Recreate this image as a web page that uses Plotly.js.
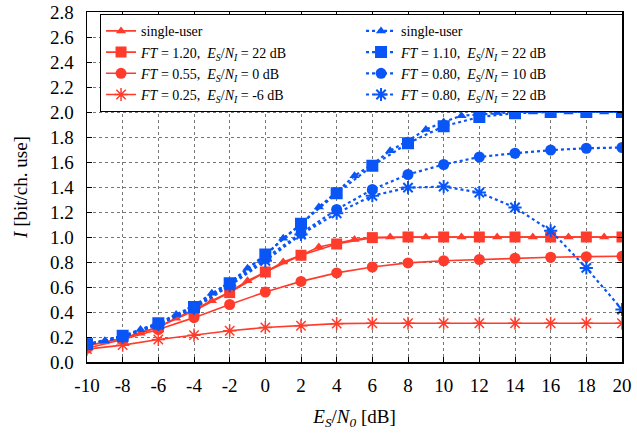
<!DOCTYPE html>
<html><head><meta charset="utf-8">
<script src="https://cdn.plot.ly/plotly-3.0.1.min.js"></script>
<style>html,body{margin:0;padding:0;background:#fff}#chart{width:637px;height:434px}</style>
</head><body><div id="chart"></div>
<script>
const x1 = [-10,-9,-8,-7,-6,-5,-4,-3,-2,-1,0,1,2,3,4,5,6,7,8,9,10,11,12,13,14,15,16,17,18,19,20];
const x2 = [-10,-8,-6,-4,-2,0,2,4,6,8,10,12,14,16,18,20];

const redSU   = [0.13,0.16,0.19,0.23,0.28,0.35,0.42,0.49,0.56,0.65,0.72,0.80,0.855,0.92,0.95,0.98,0.995,1.0,1.0,1.0,1.0,1.0,1.0,1.0,1.0,1.0,1.0,1.0,1.0,1.0,1.0];
const redSq   = [0.13,0.19,0.28,0.41,0.555,0.72,0.854,0.944,0.995,1.0,1.0,1.0,1.0,1.0,1.0,1.0];
const redCi   = [0.11,0.18,0.26,0.355,0.46,0.56,0.645,0.713,0.76,0.793,0.81,0.82,0.83,0.838,0.843,0.846];
const redSt   = [0.103,0.135,0.18,0.215,0.25,0.276,0.29,0.307,0.31,0.31,0.31,0.31,0.31,0.31,0.31,0.31];

const blueSU  = [0.14,0.17,0.2,0.26,0.31,0.38,0.45,0.55,0.63,0.75,0.85,0.99,1.1,1.24,1.36,1.49,1.58,1.69,1.77,1.86,1.92,1.97,1.98,1.995,2.0,2.0,2.0,2.0,2.0,2.0,2.0];
const blueSq  = [0.143,0.21,0.31,0.44,0.63,0.86,1.106,1.35,1.57,1.75,1.886,1.96,1.99,2.0,2.0,2.0];
const blueCi  = [0.14,0.2,0.3,0.43,0.62,0.83,1.03,1.22,1.38,1.50,1.58,1.64,1.67,1.695,1.71,1.716];
const blueSt  = [0.14,0.2,0.3,0.43,0.61,0.81,1.02,1.19,1.33,1.395,1.403,1.355,1.236,1.05,0.753,0.42];

const names = [
  'single-user',
  '<i>FT</i> = 1.20,  <i>E<sub>S</sub></i>/<i>N<sub>I</sub></i> = 22 dB',
  '<i>FT</i> = 0.55,  <i>E<sub>S</sub></i>/<i>N<sub>I</sub></i> = 0 dB',
  '<i>FT</i> = 0.25,  <i>E<sub>S</sub></i>/<i>N<sub>I</sub></i> = -6 dB',
  'single-user',
  '<i>FT</i> = 1.10,  <i>E<sub>S</sub></i>/<i>N<sub>I</sub></i> = 22 dB',
  '<i>FT</i> = 0.80,  <i>E<sub>S</sub></i>/<i>N<sub>I</sub></i> = 10 dB',
  '<i>FT</i> = 0.80,  <i>E<sub>S</sub></i>/<i>N<sub>I</sub></i> = 22 dB'
];

const RED = '#ff3b2b', BLUE = '#0a55f5';
function red(x, y, name, sym, size, rank){
  return {x, y, name, type:'scatter', mode:'lines+markers', legendrank: rank,
    line:{color:RED, width:1.6},
    marker:{symbol:sym, size:size, color:RED, line:{color:RED, width: sym==='asterisk-open'?1.5:0}}};
}
function blue(x, y, name, sym, size, rank){
  return {x, y, name, type:'scatter', mode:'lines+markers', legendrank: rank,
    line:{color:BLUE, width:2.2, dash:'dot'},
    marker:{symbol:sym, size:size, color:BLUE, line:{color:BLUE, width: sym==='asterisk-open'?2:0}}};
}
const data = [
  red(x1, redSU, names[0], 'triangle-up', 9, 1),
  red(x2, redSq, names[1], 'square', 11, 3),
  red(x2, redCi, names[2], 'circle', 11, 5),
  red(x2, redSt, names[3], 'asterisk-open', 11, 7),
  blue(x1, blueSU, names[4], 'triangle-up', 9, 2),
  blue(x2, blueSq, names[5], 'square', 12, 4),
  blue(x2, blueCi, names[6], 'circle', 11, 6),
  blue(x2, blueSt, names[7], 'asterisk-open', 11, 8)
];
const xticks = x2;
const yticks = [0,0.2,0.4,0.6,0.8,1.0,1.2,1.4,1.6,1.8,2.0,2.2,2.4,2.6,2.8];
const axisCommon = {
  showline:true, linecolor:'#000', linewidth:1.5, mirror:'ticks',
  ticks:'inside', ticklen:5, tickcolor:'#000', tickwidth:1,
  showgrid:true, gridcolor:'#777777', gridwidth:1, griddash:'dot',
  zeroline:false, tickfont:{family:'Liberation Serif', size:19, color:'#000'}
};
const layout = {
  width:637, height:434,
  margin:{l:87, r:15, t:12, b:72},
  paper_bgcolor:'#fff', plot_bgcolor:'#fff',
  font:{family:'Liberation Serif', color:'#000'},
  xaxis: Object.assign({}, axisCommon, {
    range:[-10,20], tickmode:'array', tickvals:xticks, ticktext:xticks.map(String),
    ticklabelstandoff:6,
    title:{text:'<i>E<sub>S</sub></i>/<i>N<sub>0</sub></i> [dB]', font:{family:'Liberation Serif', size:19}, standoff:14}
  }),
  yaxis: Object.assign({}, axisCommon, {
    range:[0,2.8], tickmode:'array', tickvals:yticks, ticktext:yticks.map(v=>v.toFixed(1)),
    ticklabelstandoff:8,
    title:{text:'<i>I</i> [bit/ch. use]', font:{family:'Liberation Serif', size:19}, standoff:17}
  }),
  showlegend:true,
  legend:{
    orientation:'h', x:0.024, y:0.994, xanchor:'left', yanchor:'top',
    entrywidth:215, entrywidthmode:'pixels', traceorder:'normal',
    bgcolor:'#fff', bordercolor:'#000', borderwidth:1.2,
    font:{family:'Liberation Serif', size:14, color:'#000'},
    tracegroupgap:0, itemwidth:30
  }
};
Plotly.newPlot('chart', data, layout, {displayModeBar:false, staticPlot:true});
</script>
</body></html>
